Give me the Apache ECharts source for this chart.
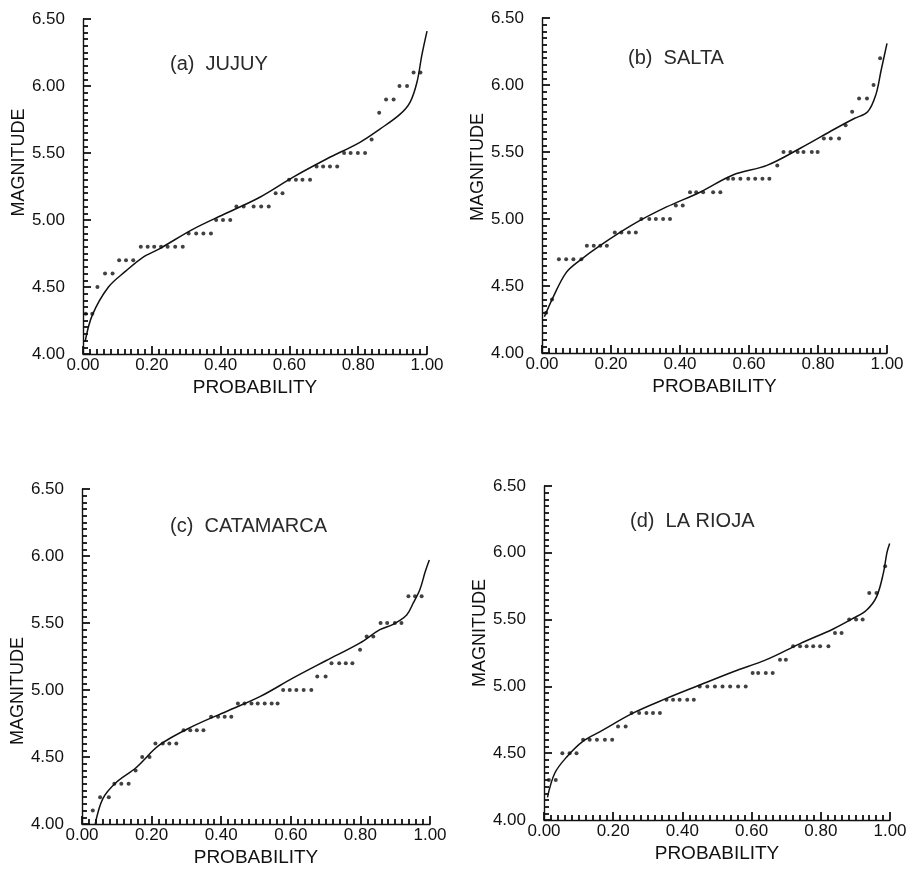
<!DOCTYPE html>
<html>
<head>
    <meta charset="utf-8">
    <title>Magnitude vs probability</title>
    <style>
        html, body { margin: 0; padding: 0; background: #fff; }
        #container { width: 911px; height: 870px; }
    </style>
</head>
<body>
    <div id="container"></div>
    <script src="https://cdn.jsdelivr.net/npm/echarts@6/dist/echarts.min.js"></script>
    <script type="text/javascript">

        // tick labels
        let xTicks = ['0.00', '0.20', '0.40', '0.60', '0.80', '1.00'];
        let yTicks = ['4.00', '4.50', '5.00', '5.50', '6.00', '6.50'];
        let titles = ['(a)  JUJUY', '(b)  SALTA', '(c)  CATAMARCA', '(d)  LA RIOJA'];

        // (a) JUJUY - observed points
        let probA = [0.008, 0.027, 0.042, 0.064, 0.086, 0.105, 0.125, 0.146,
            0.168, 0.188, 0.207, 0.227, 0.246, 0.268, 0.290, 0.307, 0.329, 0.350, 0.372,
            0.387, 0.407, 0.428, 0.446, 0.467, 0.496, 0.518, 0.540, 0.560, 0.580,
            0.599, 0.619, 0.638, 0.660, 0.679, 0.698, 0.718, 0.739, 0.759, 0.778, 0.799, 0.820,
            0.839, 0.861, 0.881, 0.903, 0.920, 0.942, 0.961, 0.981];
        let magA = [4.3, 4.3, 4.5, 4.6, 4.6, 4.7, 4.7, 4.7,
            4.8, 4.8, 4.8, 4.8, 4.8, 4.8, 4.8, 4.9, 4.9, 4.9, 4.9,
            5.0, 5.0, 5.0, 5.1, 5.1, 5.1, 5.1, 5.1, 5.2, 5.2,
            5.3, 5.3, 5.3, 5.3, 5.4, 5.4, 5.4, 5.4, 5.5, 5.5, 5.5, 5.5,
            5.6, 5.8, 5.9, 5.9, 6.0, 6.0, 6.1, 6.1];
        // (a) fitted curve
        let curveProbA = [0.006, 0.027, 0.074, 0.125, 0.173, 0.222, 0.319, 0.416, 0.514, 0.611,
            0.708, 0.805, 0.864, 0.922, 0.951, 0.971, 0.985, 1.0];
        let curveMagA = [4.09, 4.29, 4.50, 4.62, 4.72, 4.785, 4.93, 5.05, 5.17, 5.32,
            5.455, 5.58, 5.68, 5.79, 5.88, 6.03, 6.23, 6.41];

        // (b) SALTA
        let probB = [0.012, 0.029, 0.049, 0.070, 0.091, 0.114, 0.130, 0.150, 0.169, 0.188,
            0.211, 0.230, 0.252, 0.272, 0.288, 0.311, 0.330, 0.351, 0.371, 0.388, 0.408,
            0.429, 0.447, 0.467, 0.496, 0.517, 0.539, 0.554, 0.575, 0.598, 0.618, 0.639, 0.659,
            0.682, 0.700, 0.720, 0.741, 0.758, 0.782, 0.799, 0.817, 0.837, 0.861,
            0.880, 0.899, 0.919, 0.942, 0.961, 0.980];
        let magB = [4.3, 4.4, 4.7, 4.7, 4.7, 4.7, 4.8, 4.8, 4.8, 4.8,
            4.9, 4.9, 4.9, 4.9, 5.0, 5.0, 5.0, 5.0, 5.0, 5.1, 5.1,
            5.2, 5.2, 5.2, 5.2, 5.2, 5.3, 5.3, 5.3, 5.3, 5.3, 5.3, 5.3,
            5.4, 5.5, 5.5, 5.5, 5.5, 5.5, 5.5, 5.6, 5.6, 5.6,
            5.7, 5.8, 5.9, 5.9, 6.0, 6.2];
        let curveProbB = [0.007, 0.031, 0.070, 0.109, 0.167, 0.264, 0.361, 0.458, 0.555, 0.652,
            0.750, 0.847, 0.905, 0.944, 0.968, 0.983, 1.0];
        let curveMagB = [4.27, 4.41, 4.60, 4.69, 4.80, 4.96, 5.09, 5.20, 5.33, 5.40,
            5.53, 5.67, 5.75, 5.80, 5.93, 6.11, 6.31];

        // (c) CATAMARCA
        let probC = [0.031, 0.052, 0.077, 0.093, 0.113, 0.134, 0.154, 0.173, 0.194,
            0.211, 0.232, 0.251, 0.271, 0.292, 0.311, 0.330, 0.349, 0.371, 0.391, 0.410, 0.429,
            0.448, 0.467, 0.487, 0.505, 0.525, 0.545, 0.562, 0.578, 0.597, 0.616, 0.637, 0.659,
            0.676, 0.700, 0.717, 0.739, 0.758, 0.777, 0.799, 0.818, 0.837,
            0.858, 0.877, 0.899, 0.918, 0.938, 0.957, 0.976];
        let magC = [4.1, 4.2, 4.2, 4.3, 4.3, 4.3, 4.4, 4.5, 4.5,
            4.6, 4.6, 4.6, 4.6, 4.7, 4.7, 4.7, 4.7, 4.8, 4.8, 4.8, 4.8,
            4.9, 4.9, 4.9, 4.9, 4.9, 4.9, 4.9, 5.0, 5.0, 5.0, 5.0, 5.0,
            5.1, 5.1, 5.2, 5.2, 5.2, 5.2, 5.3, 5.4, 5.4,
            5.5, 5.5, 5.5, 5.5, 5.7, 5.7, 5.7];
        let curveProbC = [0.038, 0.060, 0.098, 0.155, 0.223, 0.319, 0.415, 0.511, 0.607, 0.702,
            0.798, 0.856, 0.894, 0.933, 0.952, 0.971, 0.986, 0.998];
        let curveMagC = [4.00, 4.19, 4.31, 4.42, 4.59, 4.73, 4.84, 4.95, 5.09, 5.22,
            5.35, 5.45, 5.49, 5.56, 5.65, 5.75, 5.88, 5.97];

        // (d) LA RIOJA
        let probD = [0.014, 0.034, 0.053, 0.074, 0.094, 0.113, 0.132, 0.153, 0.176, 0.197,
            0.214, 0.236, 0.253, 0.275, 0.296, 0.315, 0.335, 0.354, 0.373, 0.392, 0.414, 0.433,
            0.450, 0.472, 0.494, 0.516, 0.538, 0.561, 0.583, 0.603, 0.619, 0.641, 0.661,
            0.682, 0.699, 0.720, 0.740, 0.759, 0.778, 0.798, 0.822, 0.841, 0.860,
            0.882, 0.902, 0.921, 0.940, 0.961, 0.986];
        let magD = [4.3, 4.3, 4.5, 4.5, 4.5, 4.6, 4.6, 4.6, 4.6, 4.6,
            4.7, 4.7, 4.8, 4.8, 4.8, 4.8, 4.8, 4.9, 4.9, 4.9, 4.9, 4.9,
            5.0, 5.0, 5.0, 5.0, 5.0, 5.0, 5.0, 5.1, 5.1, 5.1, 5.1,
            5.2, 5.2, 5.3, 5.3, 5.3, 5.3, 5.3, 5.3, 5.4, 5.4,
            5.5, 5.5, 5.5, 5.7, 5.7, 5.9];
        let curveProbD = [0.010, 0.031, 0.065, 0.113, 0.161, 0.257, 0.354, 0.450, 0.547, 0.643,
            0.740, 0.836, 0.894, 0.932, 0.961, 0.981, 0.991, 0.999];
        let curveMagD = [4.17, 4.35, 4.47, 4.59, 4.66, 4.80, 4.91, 5.01, 5.11, 5.20,
            5.32, 5.43, 5.51, 5.57, 5.67, 5.85, 6.00, 6.07];

        let panels = [
            { prob: probA, mag: magA, cp: curveProbA, cm: curveMagA },
            { prob: probB, mag: magB, cp: curveProbB, cm: curveMagB },
            { prob: probC, mag: magC, cp: curveProbC, cm: curveMagC },
            { prob: probD, mag: magD, cp: curveProbD, cm: curveMagD }
        ];

        // plot area boxes (pixels)
        let boxes = [
            { left: 83, top: 19, width: 344, height: 335 },
            { left: 542, top: 18, width: 345, height: 335 },
            { left: 82, top: 489, width: 348, height: 335 },
            { left: 544, top: 486, width: 346, height: 334 }
        ];
        let titlePos = [
            { left: 170, top: 54 },
            { left: 628, top: 48 },
            { left: 170, top: 516 },
            { left: 630, top: 511 }
        ];
        // MAGNITUDE label is not centred on the axis in the original
        let yNamePad = [[0, 0, 0, 48], [0, 0, 0, 37], [0, 69, 0, 0], [0, 0, 0, 40]];

        let font = 'Liberation Sans, Arial, sans-serif';
        let ink = '#111';

        function pairs(xs, ys) {
            let out = [];
            for (let i = 0; i < xs.length; i++) out.push([xs[i], ys[i]]);
            return out;
        }

        let grid = [], xAxis = [], yAxis = [], series = [], title = [];
        for (let k = 0; k < 4; k++) {
            grid.push(boxes[k]);
            title.push({
                text: titles[k],
                left: titlePos[k].left,
                top: titlePos[k].top,
                padding: 0,
                textStyle: { fontFamily: font, fontSize: 20, fontWeight: 'normal', color: '#2a2a2a' }
            });
            xAxis.push({
                type: 'value', gridIndex: k, position: 'bottom', min: 0, max: 1, interval: 0.2,
                name: 'PROBABILITY', nameLocation: 'middle', nameGap: 24,
                nameTextStyle: { fontFamily: font, fontSize: 19, color: ink },
                axisLine: { onZero: false, lineStyle: { color: ink, width: 1.4 } },
                axisTick: { show: true, inside: true, length: 8, lineStyle: { color: ink, width: 1.8 } },
                minorTick: { show: true, splitNumber: 10, length: 5, lineStyle: { color: ink, width: 1.8 } },
                splitLine: { show: false },
                axisLabel: {
                    fontFamily: font, fontSize: 17, color: ink, margin: 3,
                    formatter: function (v) { return xTicks[Math.round(v / 0.2)]; }
                }
            });
            yAxis.push({
                type: 'value', gridIndex: k, position: 'left', min: 4, max: 6.5, interval: 0.5,
                name: 'MAGNITUDE', nameLocation: 'middle', nameGap: 55, nameRotate: 90,
                nameTextStyle: { fontFamily: font, fontSize: 18, color: ink, padding: yNamePad[k] },
                axisLine: { show: true, onZero: false, lineStyle: { color: ink, width: 1.4 } },
                axisTick: { show: true, inside: true, length: 8, lineStyle: { color: ink, width: 1.8 } },
                minorTick: { show: true, splitNumber: 10, length: 5, lineStyle: { color: ink, width: 1.8 } },
                splitLine: { show: false },
                axisLabel: {
                    fontFamily: font, fontSize: 17, color: ink, margin: 18,
                    formatter: function (v) { return yTicks[Math.round((v - 4) / 0.5)]; }
                }
            });
            series.push({
                type: 'scatter', xAxisIndex: k, yAxisIndex: k,
                symbol: 'circle', symbolSize: 4,
                itemStyle: { color: '#111' },
                data: pairs(panels[k].prob, panels[k].mag)
            });
            series.push({
                type: 'line', xAxisIndex: k, yAxisIndex: k,
                showSymbol: false, smooth: 0.35,
                lineStyle: { color: '#111', width: 1.5 },
                data: pairs(panels[k].cp, panels[k].cm)
            });
        }

        var myChart = echarts.init(document.getElementById('container'), null, { renderer: 'canvas' });
        var option = {
            animation: false,
            backgroundColor: '#fff',
            title: title,
            grid: grid,
            xAxis: xAxis,
            yAxis: yAxis,
            series: series
        };
        myChart.setOption(option);
    </script>
</body>
</html>
